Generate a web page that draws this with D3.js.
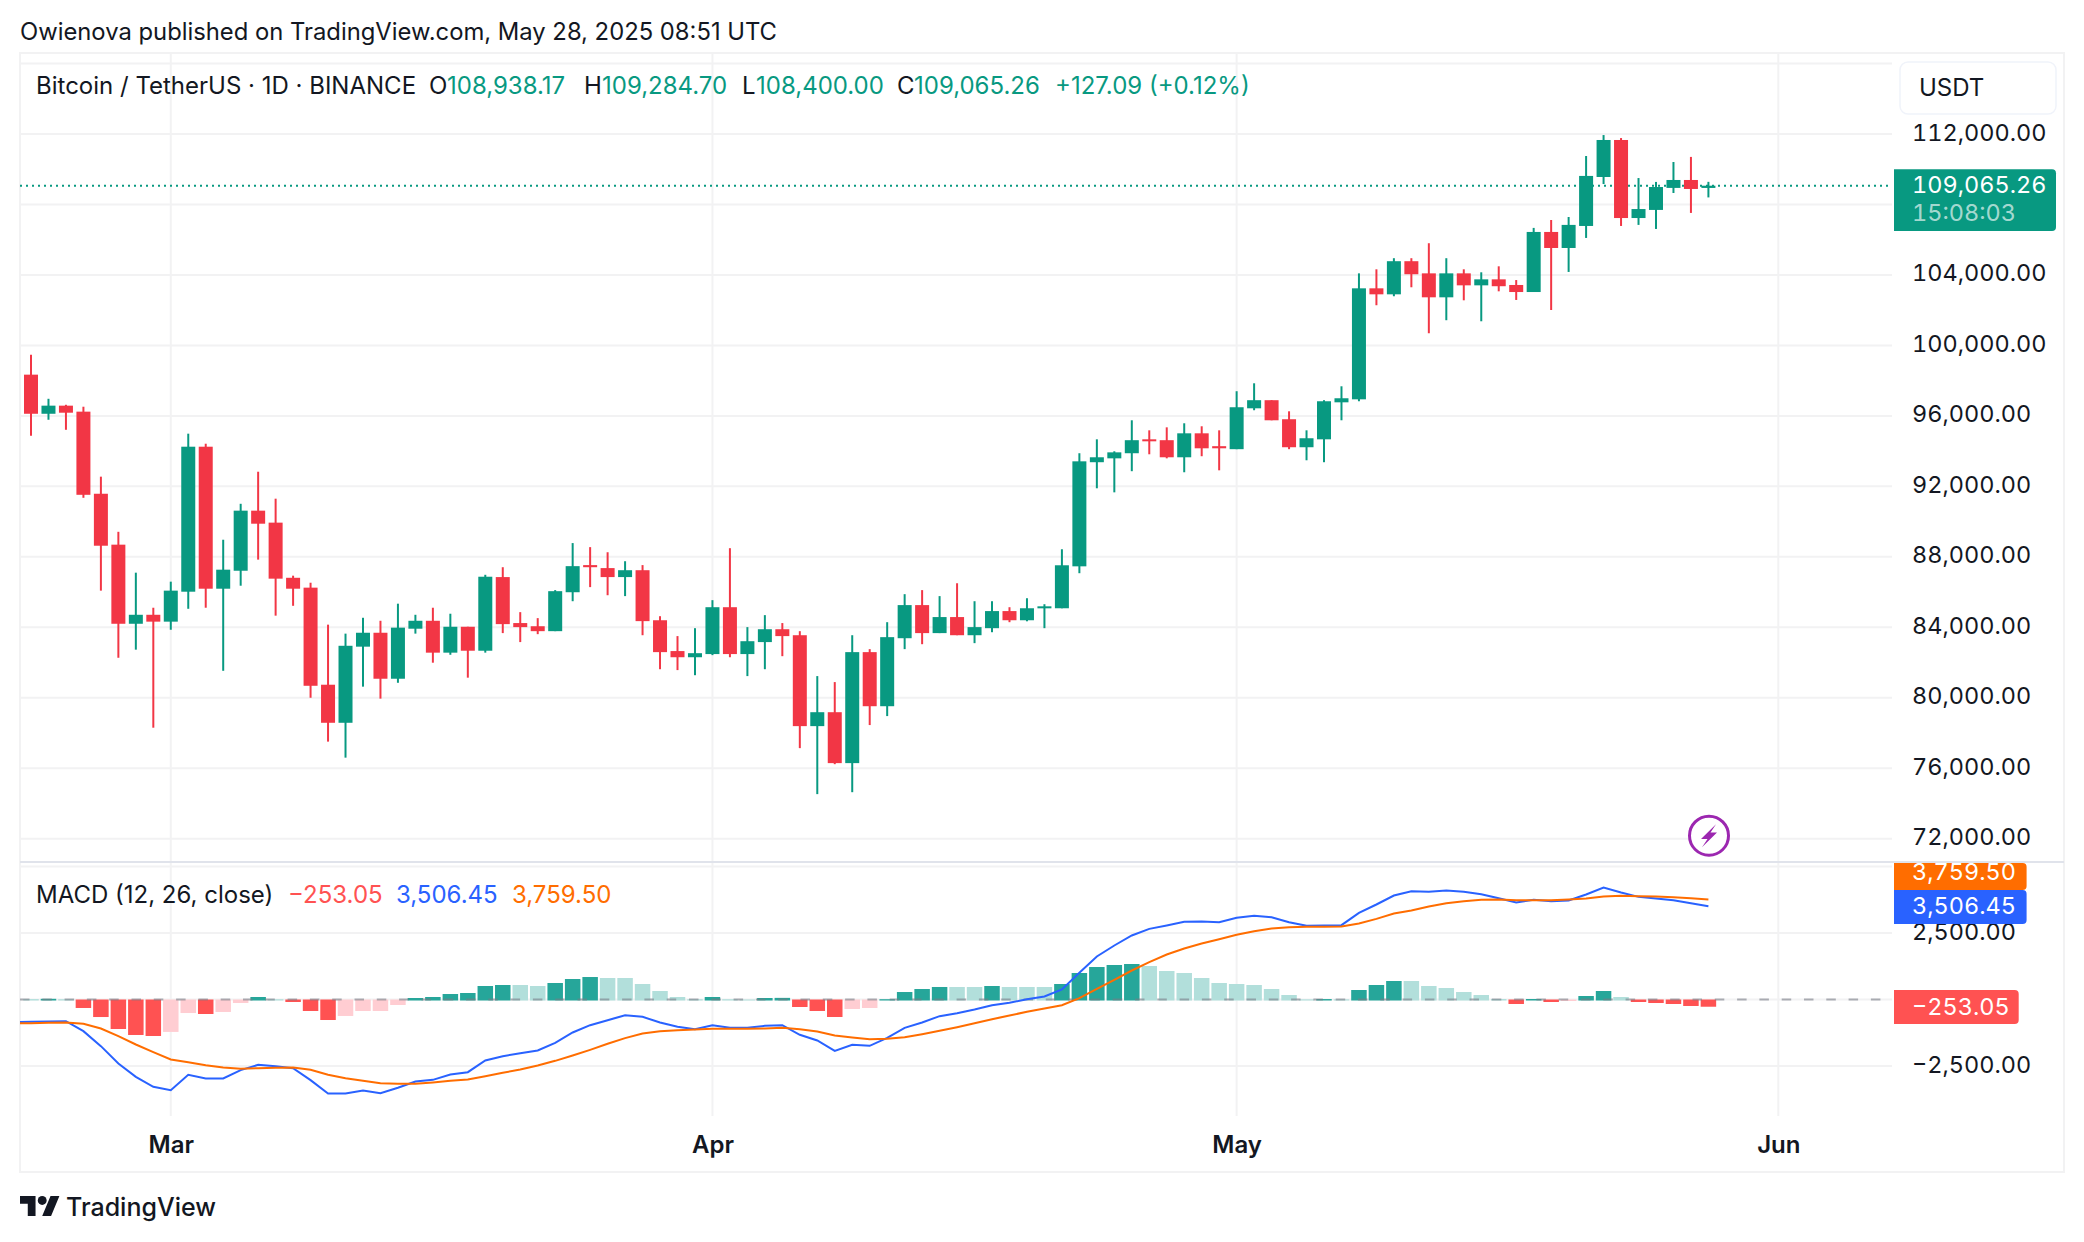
<!DOCTYPE html>
<html>
<head>
<meta charset="utf-8">
<script src="https://cdn.jsdelivr.net/npm/d3@7"></script>
<style>
html, body { margin: 0; background: #fff; }
svg { display: block; font-family: Inter, "Noto Sans", sans-serif; }
text { fill: #131722; }
.tnum { font-family: Inter, "Noto Sans", sans-serif; font-variant-numeric: tabular-nums; font-feature-settings: "tnum" 1; }
.axis path, .axis line { display: none; }
.grid line { stroke: #f2f2f3; stroke-width: 2; }
</style>
</head>
<body>
<svg id="chart" width="2084" height="1242"></svg>
<script>
var opens = [98340,96120,96580,96240,91580,88690,84200,84710,84320,86020,
  94250,86190,87210,90620,89940,86810,86250,80740,78580,82900,
  83690,81080,83920,84370,82560,84030,82670,86850,84240,84060,
  83780,85990,87530,87360,86850,87240,84400,82650,82300,82480,
  85140,82480,83160,83890,83550,78390,79180,76290,82590,79520,
  83380,85260,83670,84580,83550,83950,84920,84400,85080,85080,
  87460,93370,93590,93880,94670,94620,93650,95010,94280,94110,
  96430,96890,95810,94220,94670,96770,96940,103240,102900,104780,
  104090,102730,104090,103410,103750,103430,103030,106440,105530,106780,
  109560,111660,107230,107690,108940,109390,108938.17];
var highs = [99470,96970,96630,96520,92550,89420,87100,85110,86590,94990,
  94420,88970,91010,92830,91300,86930,86530,84150,83640,84540,
  84370,85340,84710,85110,84770,84030,86980,87410,84860,84520,
  86110,88780,88550,88260,87750,87530,84630,83500,83950,85540,
  88490,84010,84690,84240,83780,81230,80890,83550,82760,84290,
  85880,86110,85770,86500,85480,85480,85140,85650,85310,88430,
  93880,94670,93990,95750,95180,95350,95580,95410,95180,97400,
  97850,96890,96260,95180,96890,97680,104090,104320,104950,104950,
  105800,104950,104320,104150,104490,103710,106670,107120,107290,110750,
  111940,111770,109500,109280,110410,110700,109284.70];
var lows = [94870,95780,95210,91350,86080,82270,82730,78300,83860,85050,
  85110,81530,86360,87840,84660,85220,80000,77510,76600,80630,
  79950,80850,83640,81990,82440,81140,82560,83670,83160,83610,
  83780,85480,86280,85820,85770,83550,81620,81570,81280,82420,
  82300,81230,81620,82360,77140,74530,76230,74640,78450,78960,
  82760,83040,83670,83550,83100,83720,84290,84340,83950,85080,
  87070,91890,91660,92860,93820,93590,92800,93710,92910,94110,
  96320,95750,94110,93480,93370,95750,96830,102280,102790,103300,
  100690,101430,102560,101370,103070,102580,103030,102010,104170,106100,
  109160,106780,106840,106610,108650,107520,108400];
var closes = [96120,96580,96180,91520,88630,84200,84710,84320,86080,94250,
  86190,87270,90620,89880,86760,86190,80680,78580,82950,83690,
  81080,83980,84370,82560,84030,82670,86870,84180,84010,83780,
  86050,87470,87410,86850,87240,84350,82590,82300,82530,85140,
  82480,83210,83890,83500,78390,79180,76290,82590,79520,83440,
  85260,83670,84580,83550,84010,84920,84400,85080,85190,87520,
  93420,93650,93930,94620,94560,93650,95010,94160,94160,96490,
  96890,95750,94220,94730,96830,97000,103240,102900,104780,104040,
  102730,104090,103410,103750,103360,103030,106440,105530,106840,109620,
  111660,107230,107740,108990,109390,108880,109065.26];

var histValues = [35,45,30,-300,-640,-1090,-1315,-1353,-1200,-490,
  -526,-450,-113,113,30,-75,-413,-752,-600,-413,
  -413,-188,75,113,225,263,526,564,564,526,
  639,789,864,827,827,601,338,113,30,113,
  30,20,75,80,-263,-413,-639,-338,-300,30,
  300,413,489,489,489,526,489,489,489,601,
  1015,1240,1316,1353,1278,1090,1015,827,639,601,
  564,413,188,25,35,25,376,564,714,714,
  526,451,300,188,38,-150,38,-75,-38,150,
  338,113,-75,-113,-150,-225,-253.05];
// macd and signal start one day before the first candle, the line runs off the left edge
var macdValues = [-852,-840,-827,-814,-1190,-1754,-2406,-2907,-3283,-3408,
  -2832,-2970,-2970,-2656,-2456,-2506,-2581,-3032,-3533,-3533,
  -3421,-3521,-3320,-3082,-3020,-2819,-2732,-2293,-2130,-2017,
  -1917,-1629,-1240,-965,-777,-589,-652,-865,-1027,-1115,
  -965,-1065,-1065,-990,-965,-1328,-1541,-1930,-1704,-1742,
  -1441,-1065,-865,-627,-514,-376,-213,-125,13,113,
  376,1002,1616,2030,2406,2656,2782,2919,2932,2907,
  3070,3145,3095,2907,2769,2782,2794,3258,3571,3909,
  4072,4047,4097,4047,3959,3809,3646,3746,3696,3721,
  3947,4210,4022,3859,3797,3734,3621,3506.45];
var signalValues = [-902,-890,-877,-865,-915,-1090,-1378,-1692,-1980,-2255,
  -2356,-2468,-2556,-2606,-2581,-2569,-2556,-2644,-2832,-2957,
  -3057,-3145,-3170,-3170,-3120,-3057,-3007,-2882,-2757,-2631,
  -2481,-2306,-2105,-1892,-1666,-1453,-1278,-1190,-1153,-1128,
  -1103,-1103,-1103,-1090,-1065,-1115,-1203,-1353,-1428,-1491,
  -1479,-1416,-1303,-1178,-1040,-890,-739,-601,-464,-338,
  -213,50,401,739,1090,1403,1692,1917,2105,2268,
  2431,2569,2669,2719,2731,2731,2744,2857,3032,3233,
  3346,3496,3621,3696,3746,3759,3734,3734,3734,3759,
  3797,3872,3897,3884,3872,3847,3809,3759.50];

var priceTicks = [112000,104000,100000,96000,92000,88000,84000,80000,76000,72000];
var priceGrid = [116000,112000,108000,104000,100000,96000,92000,88000,84000,80000,76000,72000];
var macdTicks = [2500,-2500];
var macdGrid = [5000,2500,0,-2500];
var monthTicks = [new Date(Date.UTC(2025,2,1)), new Date(Date.UTC(2025,3,1)), new Date(Date.UTC(2025,4,1)), new Date(Date.UTC(2025,5,1))];
var firstDay = new Date(Date.UTC(2025,1,21));
var dates = d3.utcDay.range(firstDay, d3.utcDay.offset(firstDay, opens.length));

var GREEN = "#089981", RED = "#F23645", BLUE = "#2962FF", ORANGE = "#FF6D00";
var fontSize = 24, scaleFont = 23.5;

var svg = d3.select("#chart");
var left = 20, right = 1892, frameRight = 2064, top_ = 54, sep = 862, paneBottom = 1116, frameBottom = 1172;

var x = d3.scaleUtc()
    .domain([firstDay, monthTicks[3]])
    .range([31, 1778.3]);
var y = d3.scaleLinear()
    .domain([112000, 72000])
    .range([134, 838.7]);
var yM = d3.scaleLinear()
    .domain([2500, -2500])
    .range([933, 1066]);

svg.append("clipPath").attr("id", "plot").append("rect")
    .attr("x", left).attr("y", sep).attr("width", right - left).attr("height", paneBottom - sep);

/* frame */
svg.append("rect")
    .attr("x", left).attr("y", top_ - 1).attr("width", frameRight - left).attr("height", frameBottom - top_ + 1)
    .attr("fill", "none").attr("stroke", "#f2f2f3").attr("stroke-width", 2);

/* grid */
var grid = svg.append("g").attr("class", "grid");
grid.selectAll(".v").data(monthTicks).enter().append("line")
    .attr("x1", function(d) { return x(d); }).attr("x2", function(d) { return x(d); })
    .attr("y1", top_).attr("y2", paneBottom);
grid.selectAll(".p").data(priceGrid).enter().append("line")
    .attr("x1", left).attr("x2", right)
    .attr("y1", function(d) { return y(d); }).attr("y2", function(d) { return y(d); });
grid.selectAll(".m").data(macdGrid).enter().append("line")
    .attr("x1", left).attr("x2", right)
    .attr("y1", function(d) { return yM(d); }).attr("y2", function(d) { return yM(d); });
svg.append("line").attr("x1", left).attr("x2", frameRight).attr("y1", sep).attr("y2", sep)
    .attr("stroke", "#e0e3eb").attr("stroke-width", 2);

/* last price line */
svg.append("line").attr("x1", left).attr("x2", 1890)
    .attr("y1", y(closes[96])).attr("y2", y(closes[96]))
    .attr("stroke", GREEN).attr("stroke-width", 2).attr("stroke-dasharray", "2 4");

/* candles */
var candle = svg.append("g").selectAll("g")
    .data(dates)
    .enter().append("g")
    .attr("fill", function(d, i) { return closes[i] >= opens[i] ? GREEN : RED; })
    .attr("stroke", function(d, i) { return closes[i] >= opens[i] ? GREEN : RED; });
candle.append("line")
    .attr("x1", function(d) { return x(d); }).attr("x2", function(d) { return x(d); })
    .attr("y1", function(d, i) { return y(highs[i]); })
    .attr("y2", function(d, i) { return y(lows[i]); })
    .attr("stroke-width", 2);
candle.append("rect")
    .attr("stroke", "none")
    .attr("x", function(d) { return x(d) - 7; })
    .attr("width", 14)
    .attr("y", function(d, i) { return y(Math.max(opens[i], closes[i])); })
    .attr("height", function(d, i) { return Math.max(2, Math.abs(y(opens[i]) - y(closes[i]))); });

/* macd histogram */
function histColor(d, i) {
    var prev = i > 0 ? histValues[i - 1] : d;
    if (d >= 0) return d > prev ? "#26A69A" : "#B2DFDB";
    return d < prev ? "#FF5252" : "#FFCDD2";
}
svg.append("g").selectAll("rect")
    .data(histValues)
    .enter().append("rect")
    .attr("x", function(d, i) { return x(dates[i]) - 7.75; })
    .attr("width", 15.5)
    .attr("y", function(d) { return Math.min(yM(0), yM(d)) + (d > 0 ? 0.5 : 0); })
    .attr("height", function(d) { return Math.abs(yM(d) - yM(0)) + 0.5; })
    .attr("fill", histColor);
svg.append("line").attr("x1", left).attr("x2", right).attr("y1", yM(0)).attr("y2", yM(0))
    .attr("stroke", "#787b86").attr("stroke-opacity", 0.6).attr("stroke-width", 2).attr("stroke-dasharray", "9.5 12.8");

/* macd lines */
var lineDates = [d3.utcDay.offset(firstDay, -1)].concat(dates);
var line = d3.line()
    .x(function(d, i) { return x(lineDates[i]); })
    .y(function(d) { return yM(d); });
svg.append("path").datum(macdValues)
    .attr("d", line).attr("fill", "none").attr("stroke", BLUE).attr("stroke-width", 2).attr("clip-path", "url(#plot)");
svg.append("path").datum(signalValues)
    .attr("d", line).attr("fill", "none").attr("stroke", ORANGE).attr("stroke-width", 2).attr("clip-path", "url(#plot)");

/* lightning mark */
var bolt = svg.append("g").attr("transform", "translate(1709,835.7)");
bolt.append("ellipse").attr("rx", 19.5).attr("ry", 19.5)
    .attr("fill", "#fff").attr("stroke", "#9C27B0").attr("stroke-width", 3);
bolt.append("path").attr("d", "M7,-11.5 L-8,3.2 L-1.5,3.2 L-7,11.5 L8,-3.2 L1.5,-3.2 Z").attr("fill", "#9C27B0");

/* price scale */
var axisFmt = d3.format(",.2f");
function styleScale(g) {
    g.selectAll("text").attr("class", "tnum").style("font-size", scaleFont + "px").attr("fill", "#131722");
}
svg.append("g").attr("class", "axis")
    .attr("transform", "translate(1912,-1.5)")
    .call(d3.axisRight(y).tickValues(priceTicks).tickSize(0).tickPadding(0).tickFormat(axisFmt))
    .call(styleScale);
svg.append("g").attr("class", "axis")
    .attr("transform", "translate(1912,-1)")
    .call(d3.axisRight(yM).tickValues(macdTicks).tickSize(0).tickPadding(0).tickFormat(axisFmt))
    .call(styleScale);

/* time scale */
svg.append("g").attr("class", "axis")
    .attr("transform", "translate(0,1136)")
    .call(d3.axisBottom(x).tickValues(monthTicks).tickSize(0).tickPadding(0).tickFormat(d3.utcFormat("%b")))
    .call(function(g) { g.selectAll("text").style("font-family", "Inter").style("font-size", fontSize + "px").style("font-weight", 600).attr("fill", "#131722"); });

/* value badges */
function badge(yTop, h, w, color, label, textY) {
    svg.append("path")
        .attr("d", "M1894," + yTop + "h" + (w - 4) + "a4,4 0 0 1 4,4v" + (h - 8) + "a4,4 0 0 1 -4,4h" + (-(w - 4)) + "z")
        .attr("fill", color);
    svg.append("text").attr("class", "tnum").attr("x", 1912).attr("y", textY).attr("dy", "0.36em")
        .style("font-size", scaleFont + "px").style("fill", "#fff").text(label);
}
badge(169.3, 61.7, 162, GREEN, axisFmt(closes[96]), 185);
svg.append("text").attr("class", "tnum").attr("x", 1912).attr("y", 213).attr("dy", "0.36em")
    .style("font-size", scaleFont + "px").style("fill", "#fff").style("fill-opacity", 0.65).text("15:08:03");
badge(863, 27, 132.6, ORANGE, axisFmt(signalValues[97]), 871.7);
badge(890, 34, 132.6, BLUE, axisFmt(macdValues[97]), 906);
badge(990, 34, 124.7, "#FF5252", axisFmt(histValues[96]), 1006.7);

/* currency box */
svg.append("rect").attr("x", 1900).attr("y", 62).attr("width", 156).attr("height", 52).attr("rx", 8)
    .attr("fill", "#fff").attr("stroke", "#f0f3fa").attr("stroke-width", 1.5);
svg.append("text").attr("x", 1919).attr("y", 87).attr("dy", "0.36em").style("font-size", fontSize + "px").text("USDT");

/* header and legends */
function label(xPos, yPos, str, color) {
    return svg.append("text").attr("x", xPos).attr("y", yPos).attr("dy", "0.36em")
        .style("font-size", fontSize + "px").style("fill", color || "#131722").text(str);
}
label(20, 31.5, "Owienova published on TradingView.com, May 28, 2025 08:51 UTC").style("font-size", "23.8px");
label(36, 85.5, "Bitcoin / TetherUS · 1D · BINANCE");
label(429, 85.5, "O");
label(447, 85.5, axisFmt(opens[96]), GREEN);
label(584, 85.5, "H");
label(602, 85.5, axisFmt(highs[96]), GREEN);
label(742, 85.5, "L");
label(756, 85.5, axisFmt(lows[96]), GREEN);
label(897, 85.5, "C");
label(914, 85.5, axisFmt(closes[96]), GREEN);
label(1055, 85.5, "+127.09 (+0.12%)", GREEN);

label(36, 894, "MACD (12, 26, close)");
label(288, 894, axisFmt(histValues[96]), "#FF5252");
label(396, 894, axisFmt(macdValues[97]), BLUE);
label(512, 894, axisFmt(signalValues[97]), ORANGE);

/* logo */
var logo = svg.append("g").attr("transform", "translate(20,1191.6) scale(1.11)").attr("fill", "#131722");
logo.append("path").attr("d", "M14 22H7V11H0V4h14v18zM28 22h-8l7.5-18h8L28 22z");
logo.append("circle").attr("cx", 20).attr("cy", 8).attr("r", 4);
svg.append("text").attr("x", 66).attr("y", 1207).attr("dy", "0.36em")
    .style("font-size", "25px").style("font-weight", 500).text("TradingView");
</script>
</body>
</html>
